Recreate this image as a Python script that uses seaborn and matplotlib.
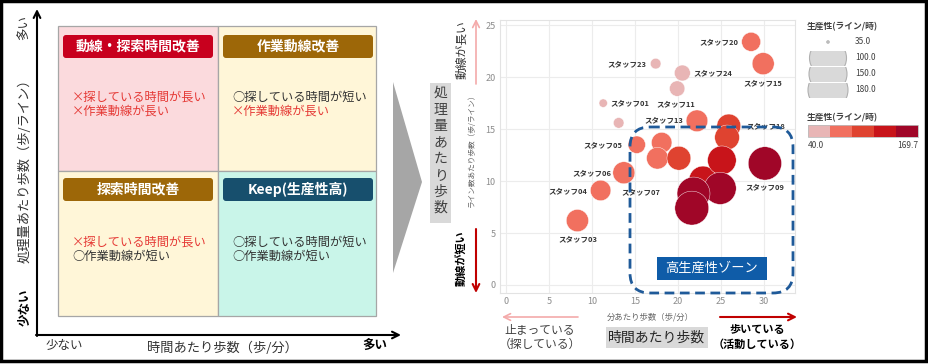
import numpy as np
import matplotlib.pyplot as plt
import pandas as pd
import seaborn as sns
from matplotlib.patches import Rectangle, FancyBboxPatch, Polygon, Circle

# --- bubble chart data (x: 分あたり歩数, y: ライン数あたり歩数, size/colour: 生産性) ---
staff = ["スタッフ20", "スタッフ15", "スタッフ23", "スタッフ24", "スタッフ11", "スタッフ01", "",
         "スタッフ13", "スタッフ18", "", "スタッフ05", "", "スタッフ07", "", "",
         "スタッフ09", "スタッフ06", "スタッフ04", "スタッフ03", "", "", "", ""]
steps_per_min = [28.5, 29.9, 17.4, 20.5, 19.9, 11.3, 13.1, 22.2, 25.9, 25.7, 15.2, 18.1,
                 17.6, 20.1, 25.1, 30.1, 13.7, 11.0, 8.3, 22.9, 24.9, 21.8, 21.6]
steps_per_line = [23.4, 21.3, 21.3, 20.4, 18.9, 17.5, 15.6, 15.8, 15.3, 14.2, 13.5, 13.7,
                  12.2, 12.2, 12.0, 11.7, 10.8, 9.1, 6.2, 10.1, 9.3, 8.8, 7.4]
productivity = [75, 90, 45, 62, 60, 40, 45, 88, 100, 105, 68, 82,
                88, 100, 130, 165, 90, 82, 91, 125, 155, 162, 169.7]

x_ticks = [0, 5, 10, 15, 20, 25, 30]
y_ticks = [0, 5, 10, 15, 20, 25]
size_legend_vals = [35.0, 100.0, 150.0, 180.0]
color_range = [40.0, 169.7]
bin_colors = ["#e8b5b5", "#f1705f", "#df4330", "#c8141a", "#a00628"]

# quadrant texts
quad_titles = ["動線・探索時間改善", "作業動線改善", "探索時間改善", "Keep(生産性高)"]
quad_lines = [
    [("×探している時間が長い", "red"), ("×作業動線が長い", "red")],
    [("○探している時間が短い", "dark"), ("×作業動線が長い", "red")],
    [("×探している時間が長い", "red"), ("○作業動線が短い", "dark")],
    [("○探している時間が短い", "dark"), ("○作業動線が短い", "dark")],
]

# label placement around bubbles (ha, dx px, dy px down)
label_pos = {
    "スタッフ20": ("right", -13, 0), "スタッフ15": ("center", 0, 19),
    "スタッフ23": ("right", -9, 0), "スタッフ24": ("left", 11, 0),
    "スタッフ11": ("center", -1, 15), "スタッフ01": ("left", 7, 0),
    "スタッフ13": ("right", -14, -1), "スタッフ18": ("left", 18, 0),
    "スタッフ05": ("right", -14, 0), "スタッフ06": ("right", -12, 0),
    "スタッフ04": ("right", -13, 0), "スタッフ07": ("center", -17, 34),
    "スタッフ09": ("center", 0, 23), "スタッフ03": ("center", 0, 18),
}

sns.set_theme(style="whitegrid")
plt.rcParams['font.family'] = ['Noto Sans CJK JP', 'DejaVu Sans']

W, H = 929, 364
fig = plt.figure(figsize=(W / 100, H / 100), dpi=100)

# background axes in pixel coordinates
bg = fig.add_axes([0, 0, 1, 1], zorder=0, label="bg")
bg.set_xlim(0, W)
bg.set_ylim(H, 0)
bg.axis('off')

RED = "#e53935"
DARK = "#333333"

# ---- left: quadrant diagram ----
qx = [58, 218, 376]
qy = [26, 171, 316]
fills = ["#fbdadd", "#fff6d8", "#fff6d8", "#c9f5e9"]
heads = ["#c8001e", "#9d6708", "#9d6708", "#174f6d"]
for i in range(4):
    c, r = i % 2, i // 2
    bg.add_patch(Rectangle((qx[c], qy[r]), qx[c + 1] - qx[c], qy[r + 1] - qy[r],
                           fc=fills[i], ec="#a6a6a6", lw=0.9))
    hx = qx[c] + 5
    hy = qy[r] + 9 if r == 0 else qy[r] + 7
    bg.add_patch(FancyBboxPatch((hx, hy), 150, 23, boxstyle="round,pad=0,rounding_size=3",
                                fc=heads[i], ec="none"))
    bg.text(hx + 75, hy + 11.5, quad_titles[i], color="white", fontsize=10,
            fontweight="bold", ha="center", va="center")
    for j, (txt, col) in enumerate(quad_lines[i]):
        bg.text(qx[c] + 14, qy[r] + 71 + j * 14.5, txt, fontsize=8.8,
                color=RED if col == "red" else DARK, ha="left", va="center")

# axes arrows of the quadrant diagram
bg.annotate("", xy=(37, 9), xytext=(37, 336),
            arrowprops=dict(arrowstyle="->", lw=1.5, color="black", shrinkA=0, shrinkB=0))
bg.annotate("", xy=(401, 335), xytext=(36, 335),
            arrowprops=dict(arrowstyle="->", lw=1.5, color="black", shrinkA=0, shrinkB=0))
bg.text(25, 168, "処理量あたり歩数（歩/ライン）", rotation=90, fontsize=9.5,
        ha="center", va="center", color=DARK)
bg.text(25, 28, "多い", rotation=90, fontsize=9, ha="center", va="center", color=DARK)
bg.text(25, 307, "少ない", rotation=90, fontsize=9, fontweight="bold",
        ha="center", va="center", color="black")
bg.text(222, 348, "時間あたり歩数（歩/分）", fontsize=9.5, ha="center", va="center", color=DARK)
bg.text(64, 346, "少ない", fontsize=9, ha="center", va="center", color=DARK)
bg.text(375, 346, "多い", fontsize=9, fontweight="bold", ha="center", va="center", color="black")

# chevron
bg.add_patch(Polygon([(393, 82), (422, 182), (393, 273)], closed=True, fc="#a6a6a6", ec="none"))

# ---- right: bubble chart ----
L, R, T, B = 500, 795, 20, 293
ax = fig.add_axes([L / W, 1 - B / H, (R - L) / W, (B - T) / H], zorder=1, label="bubble")

df = pd.DataFrame({"staff": staff, "x": steps_per_min, "y": steps_per_line, "prod": productivity})
edges = np.linspace(color_range[0], color_range[1], 6)
df["bin"] = pd.cut(df["prod"], bins=edges, labels=False, include_lowest=True)
df = df.sort_values("prod")
palette = {k: c for k, c in enumerate(bin_colors)}

sns.scatterplot(data=df, x="x", y="y", size="prod", sizes=(15, 640), size_norm=(35, 180),
                hue="bin", palette=palette, legend=False, edgecolor="#ffffff", linewidth=0.3,
                alpha=1, ax=ax)

for _, row in df.iterrows():
    if not row["staff"]:
        continue
    ha, dx, dy = label_pos[row["staff"]]
    ax.annotate(row["staff"], (row["x"], row["y"]), xytext=(dx, -dy),
                textcoords="offset pixels", ha=ha, va="center", fontsize=5.4,
                color="#333333", fontweight="bold")

ax.set_xlim(-0.7, 33.6)
ax.set_ylim(-0.77, 25.5)
ax.set_xticks(x_ticks)
ax.set_yticks(y_ticks)
ax.tick_params(length=0, pad=3, labelsize=6.5, colors="#8c8c8c")
ax.grid(True, color="#ececec", lw=0.8)
for s in ax.spines.values():
    s.set_color("#e3e3e3")
    s.set_linewidth(0.8)
ax.set_facecolor("white")
ax.set_xlabel("分あたり歩数（歩/分）", fontsize=6, color="#666666")
ax.set_ylabel("ライン数あたり歩数（歩/ライン）", fontsize=5.5, color="#666666")
ax.xaxis.set_label_coords(0.508, -0.07)
ax.yaxis.set_label_coords(-0.08, 0.53)

# overlay annotations in pixel coordinates
ov = fig.add_axes([0, 0, 1, 1], zorder=2, label="overlay")
ov.set_xlim(0, W)
ov.set_ylim(H, 0)
ov.axis('off')
ov.patch.set_alpha(0)

ov.add_patch(FancyBboxPatch((630, 127), 163, 166, boxstyle="round,pad=0,rounding_size=20",
                            fill=False, ec="#1f5a99", lw=2, ls=(0, (3.5, 2))))
ov.add_patch(Rectangle((657, 257), 110, 23, fc="#0f5ca8", ec="none"))
ov.text(712, 268.5, "高生産性ゾーン", color="white", fontsize=9.5, ha="center", va="center")

# vertical gray label
ov.add_patch(Rectangle((430, 83), 21, 140, fc="#d9d9d9", ec="none"))
for k, ch in enumerate("処理量あたり歩数"):
    ov.text(440.5, 93 + k * 16.4, ch, fontsize=10, ha="center", va="center", color="#404040")

# y direction arrows
ov.annotate("", xy=(476, 19), xytext=(476, 84),
            arrowprops=dict(arrowstyle="->", lw=1.2, color="#f4aaaa", shrinkA=0, shrinkB=0))
ov.annotate("", xy=(476, 293), xytext=(476, 229),
            arrowprops=dict(arrowstyle="->", lw=1.5, color="#c00000", shrinkA=0, shrinkB=0))
ov.text(462, 50, "動線が長い", rotation=90, fontsize=8.5, ha="center", va="center", color=DARK)
ov.text(462, 258, "動線が短い", rotation=90, fontsize=8, fontweight="bold",
        ha="center", va="center", color="black")

# x direction arrows
ov.annotate("", xy=(502, 317), xytext=(578, 317),
            arrowprops=dict(arrowstyle="->", lw=1.2, color="#f4aaaa", shrinkA=0, shrinkB=0))
ov.annotate("", xy=(797, 317), xytext=(720, 317),
            arrowprops=dict(arrowstyle="->", lw=1.5, color="#c00000", shrinkA=0, shrinkB=0))
ov.text(540, 337, "止まっている\n（探している）", fontsize=8.5, ha="center", va="center",
        color="#404040", linespacing=1.1)
ov.text(757, 337, "歩いている\n（活動している）", fontsize=8, fontweight="bold", ha="center",
        va="center", color="black", linespacing=1.15)
ov.add_patch(Rectangle((606, 327), 102, 21, fc="#d9d9d9", ec="none"))
ov.text(657, 337.5, "時間あたり歩数", fontsize=10, ha="center", va="center", color="#262626")

# size legend
ov.text(807, 27, "生産性(ライン/時)", fontsize=6.3, fontweight="bold", ha="left",
        va="center", color="#404040")
legend_radius = [1.2, 18.5, 19, 20]
for k, (v, rad) in enumerate(zip(size_legend_vals, legend_radius)):
    yy = 42 + k * 16
    c = Circle((828, yy), rad, fc="#d9d9d9", ec="#b0b0b0", lw=0.8)
    ov.add_patch(c)
    c.set_clip_path(Rectangle((800, yy - 7.5), 60, 15, transform=ov.transData))
    ov.text(855, yy, f"{v:.1f}", fontsize=6, ha="left", va="center", color="#404040")

# colour legend
ov.text(807, 118, "生産性(ライン/時)", fontsize=6.3, fontweight="bold", ha="left",
        va="center", color="#404040")
seg = 110 / len(bin_colors)
for k, col in enumerate(bin_colors):
    ov.add_patch(Rectangle((808 + k * seg, 125), seg, 12, fc=col, ec="none"))
ov.add_patch(Rectangle((808, 125), 110, 12, fill=False, ec="#bdbdbd", lw=0.6))
ov.text(808, 145, f"{color_range[0]:.1f}", fontsize=6, ha="left", va="center", color="#404040")
ov.text(918, 145, f"{color_range[1]:.1f}", fontsize=6, ha="right", va="center", color="#404040")

# outer frame
ov.add_patch(Rectangle((1, 1), 925, 360, fill=False, ec="black", lw=2.5))

fig.savefig("out.png", dpi=100)
